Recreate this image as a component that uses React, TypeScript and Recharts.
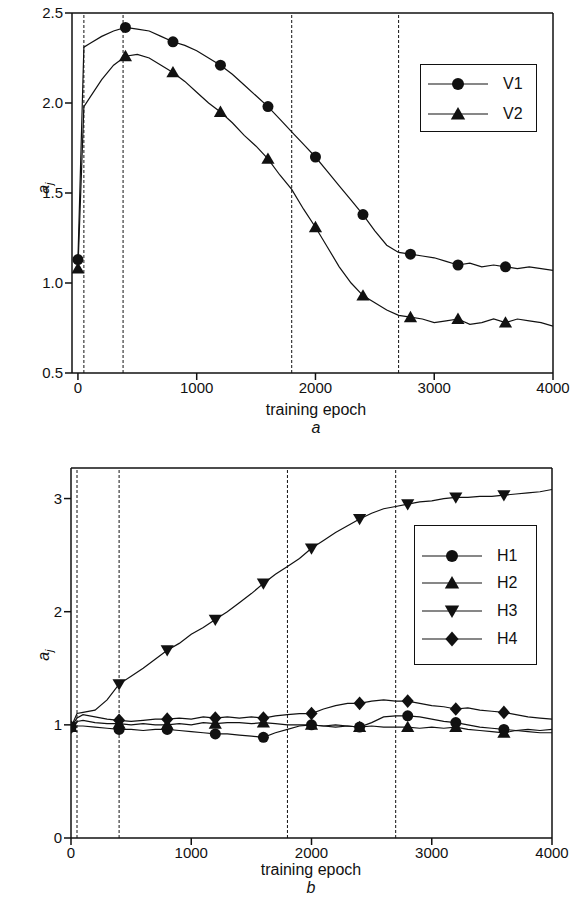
import React from 'react';
import { LineChart, Line, XAxis, YAxis, ReferenceLine } from 'recharts';

// ---------- data ----------
const epochs = [0, 50, 100, 200, 300, 400, 500, 600, 700, 800, 900, 1000, 1100, 1200, 1300, 1400, 1500, 1600, 1700, 1800, 1900, 2000, 2100, 2200, 2300, 2400, 2500, 2600, 2700, 2800, 2900, 3000, 3100, 3200, 3300, 3400, 3500, 3600, 3700, 3800, 3900, 4000];

const v1 = [1.13, 2.31, 2.33, 2.37, 2.40, 2.42, 2.41, 2.40, 2.37, 2.34, 2.32, 2.29, 2.25, 2.21, 2.16, 2.10, 2.04, 1.98, 1.91, 1.84, 1.77, 1.70, 1.62, 1.54, 1.46, 1.38, 1.29, 1.21, 1.17, 1.16, 1.15, 1.14, 1.12, 1.10, 1.11, 1.09, 1.10, 1.09, 1.08, 1.09, 1.08, 1.07];
const v2 = [1.08, 1.98, 2.03, 2.13, 2.21, 2.26, 2.27, 2.25, 2.21, 2.17, 2.12, 2.06, 2.00, 1.95, 1.89, 1.82, 1.76, 1.69, 1.60, 1.52, 1.41, 1.31, 1.20, 1.09, 1.00, 0.93, 0.89, 0.85, 0.82, 0.81, 0.80, 0.78, 0.79, 0.80, 0.77, 0.78, 0.80, 0.78, 0.80, 0.79, 0.78, 0.76];

const h1 = [0.98, 0.99, 0.99, 0.98, 0.97, 0.96, 0.96, 0.95, 0.96, 0.96, 0.95, 0.94, 0.93, 0.92, 0.92, 0.91, 0.90, 0.89, 0.93, 0.96, 0.99, 1.00, 0.99, 0.98, 0.99, 0.98, 1.02, 1.07, 1.08, 1.08, 1.07, 1.05, 1.03, 1.02, 1.00, 0.98, 0.97, 0.96, 0.95, 0.96, 0.95, 0.96];
const h2 = [0.98, 1.03, 1.04, 1.02, 1.01, 1.01, 1.00, 1.01, 1.00, 1.00, 1.01, 1.00, 1.02, 1.01, 1.02, 1.02, 1.01, 1.02, 1.01, 1.00, 1.00, 1.00, 0.99, 1.00, 0.99, 0.98, 0.99, 0.98, 0.98, 0.98, 0.97, 0.98, 0.97, 0.98, 0.96, 0.95, 0.94, 0.93, 0.95, 0.94, 0.93, 0.93];
const h3 = [0.98, 1.10, 1.11, 1.13, 1.22, 1.36, 1.43, 1.50, 1.58, 1.66, 1.72, 1.80, 1.86, 1.93, 2.00, 2.08, 2.16, 2.25, 2.33, 2.40, 2.47, 2.56, 2.63, 2.70, 2.76, 2.82, 2.87, 2.91, 2.93, 2.95, 2.97, 2.98, 3.00, 3.01, 3.01, 3.02, 3.02, 3.03, 3.04, 3.05, 3.06, 3.08];
const h4 = [0.98, 1.06, 1.09, 1.07, 1.05, 1.04, 1.03, 1.04, 1.05, 1.05, 1.06, 1.05, 1.07, 1.06, 1.07, 1.06, 1.07, 1.06, 1.08, 1.09, 1.10, 1.10, 1.14, 1.17, 1.19, 1.19, 1.21, 1.22, 1.21, 1.21, 1.19, 1.17, 1.16, 1.14, 1.15, 1.13, 1.12, 1.11, 1.09, 1.07, 1.06, 1.05];

const markerEpochs = [0, 400, 800, 1200, 1600, 2000, 2400, 2800, 3200, 3600];

const xTicks = [0, 1000, 2000, 3000, 4000];
const topYTicks = [0.5, 1.0, 1.5, 2.0, 2.5];
const bottomYTicks = [0, 1, 2, 3];
const topPhaseLines = [50, 380, 1800, 2700];
const bottomPhaseLines = [50, 400, 1800, 2700];

const topSeries = [
  { key: 'V1', values: v1, shape: 'circle' },
  { key: 'V2', values: v2, shape: 'triangle' },
];
const bottomSeries = [
  { key: 'H1', values: h1, shape: 'circle' },
  { key: 'H2', values: h2, shape: 'triangle' },
  { key: 'H3', values: h3, shape: 'down' },
  { key: 'H4', values: h4, shape: 'diamond' },
];

const buildRows = (series: { key: string; values: number[] }[]) =>
  epochs.map((e, i) => {
    const row: Record<string, number> = { epoch: e };
    series.forEach((s) => (row[s.key] = s.values[i]));
    return row;
  });

const topData = buildRows(topSeries);
const bottomData = buildRows(bottomSeries);

// ---------- drawing helpers ----------
const FONT = '"Liberation Sans", Arial, Helvetica, sans-serif';
const INK = '#111';

function Marker({ shape, cx, cy, size }: { shape: string; cx: number; cy: number; size: number }) {
  const s = size;
  if (shape === 'circle') return <circle cx={cx} cy={cy} r={s / 2} fill={INK} />;
  if (shape === 'triangle')
    return <polygon points={`${cx},${cy - s * 0.58} ${cx + s * 0.6},${cy + s * 0.45} ${cx - s * 0.6},${cy + s * 0.45}`} fill={INK} />;
  if (shape === 'down')
    return <polygon points={`${cx},${cy + s * 0.58} ${cx + s * 0.6},${cy - s * 0.45} ${cx - s * 0.6},${cy - s * 0.45}`} fill={INK} />;
  return <polygon points={`${cx},${cy - s * 0.62} ${cx + s * 0.55},${cy} ${cx},${cy + s * 0.62} ${cx - s * 0.55},${cy}`} fill={INK} />;
}

const makeDot = (shape: string, size: number) => (p: any) => {
  const k = `dot-${shape}-${p.index}`;
  if (!p.payload || !markerEpochs.includes(p.payload.epoch) || p.cx == null || p.cy == null) return <g key={k} />;
  return (
    <g key={k}>
      <Marker shape={shape} cx={p.cx} cy={p.cy} size={size} />
    </g>
  );
};

const tickStyle = { fill: INK, fontSize: 15, fontFamily: FONT };
const axisLineStyle = { stroke: INK, strokeWidth: 1.5 };

function LegendBox({ items, left, top, width, height, rowTops, size }: any) {
  return (
    <div
      style={{
        position: 'absolute',
        left,
        top,
        width,
        height,
        border: `1.5px solid ${INK}`,
        boxSizing: 'border-box',
        background: '#fff',
      }}
    >
      {items.map((it: any, i: number) => (
        <div key={it.key} style={{ position: 'absolute', left: 0, top: rowTops[i] - 10, height: 20, width: width - 4 }}>
          <svg width={80} height={20} style={{ position: 'absolute', left: 0, top: 0 }}>
            <line x1={7} x2={67} y1={10} y2={10} stroke={INK} strokeWidth={1.2} />
            <Marker shape={it.shape} cx={37} cy={10} size={size} />
          </svg>
          <span
            style={{
              position: 'absolute',
              left: 82,
              top: 0,
              lineHeight: '20px',
              fontSize: 16,
              fontFamily: FONT,
              color: INK,
            }}
          >
            {it.key}
          </span>
        </div>
      ))}
    </div>
  );
}

function YLabel({ left, top }: { left: number; top: number }) {
  return (
    <div
      style={{
        position: 'absolute',
        left,
        top,
        transform: 'rotate(-90deg)',
        transformOrigin: 'center',
        fontFamily: FONT,
        fontStyle: 'italic',
        fontSize: 16,
        color: INK,
        width: 24,
        textAlign: 'center',
      }}
    >
      a<sub style={{ fontSize: 11 }}>j</sub>
    </div>
  );
}

function Caption({ text, top, italic, left }: { text: string; top: number; italic?: boolean; left: number }) {
  return (
    <div
      style={{
        position: 'absolute',
        left: left - 100,
        width: 200,
        top,
        textAlign: 'center',
        fontFamily: FONT,
        fontStyle: italic ? 'italic' : 'normal',
        fontSize: 16,
        lineHeight: '18px',
        color: INK,
      }}
    >
      {text}
    </div>
  );
}

export default function App() {
  return (
    <div style={{ position: 'absolute', left: 0, top: 0, width: 572, height: 903, background: '#fff', overflow: 'hidden' }}>
      {/* ---------- panel a ---------- */}
      <div style={{ position: 'absolute', left: 0, top: 0 }}>
        <LineChart width={572} height={440} data={topData} margin={{ top: 13, right: 19, left: 0, bottom: 0 }}>
          <XAxis
            dataKey="epoch"
            type="number"
            domain={[-50, 4000]}
            ticks={xTicks}
            interval={0}
            allowDataOverflow
            height={67}
            tickSize={7}
            tick={tickStyle}
            axisLine={axisLineStyle}
            tickLine={axisLineStyle}
          />
          <YAxis
            type="number"
            domain={[0.5, 2.5]}
            ticks={topYTicks}
            interval={0}
            allowDataOverflow
            width={72}
            tickSize={7}
            tick={tickStyle}
            tickFormatter={(v: number) => v.toFixed(1)}
            axisLine={axisLineStyle}
            tickLine={axisLineStyle}
          />
          {topPhaseLines.map((x) => (
            <ReferenceLine key={`pa-${x}`} x={x} stroke={INK} strokeWidth={1} strokeDasharray="3 2" />
          ))}
          <ReferenceLine y={2.5} stroke={INK} strokeWidth={1.5} />
          <ReferenceLine x={4000} stroke={INK} strokeWidth={1.5} />
          {topSeries.map((s) => (
            <Line
              key={s.key}
              dataKey={s.key}
              type="linear"
              stroke={INK}
              strokeWidth={1.2}
              dot={makeDot(s.shape, 11)}
              activeDot={false}
              isAnimationActive={false}
            />
          ))}
        </LineChart>
      </div>
      <YLabel left={33} top={178} />
      <Caption text="training epoch" top={401} left={316} />
      <Caption text="a" top={419} italic left={316} />
      <LegendBox items={topSeries} left={420} top={64} width={117} height={68} rowTops={[19, 49]} size={12} />

      {/* ---------- panel b ---------- */}
      <div style={{ position: 'absolute', left: 0, top: 440 }}>
        <LineChart width={572} height={463} data={bottomData} margin={{ top: 28, right: 20, left: 0, bottom: 0 }}>
          <XAxis
            dataKey="epoch"
            type="number"
            domain={[0, 4000]}
            ticks={xTicks}
            interval={0}
            allowDataOverflow
            height={65}
            tickSize={7}
            tick={tickStyle}
            axisLine={axisLineStyle}
            tickLine={axisLineStyle}
          />
          <YAxis
            type="number"
            domain={[0, 3.27]}
            ticks={bottomYTicks}
            interval={0}
            allowDataOverflow
            width={71}
            tickSize={7}
            tick={tickStyle}
            axisLine={axisLineStyle}
            tickLine={axisLineStyle}
          />
          {bottomPhaseLines.map((x) => (
            <ReferenceLine key={`pb-${x}`} x={x} stroke={INK} strokeWidth={1} strokeDasharray="3 2" />
          ))}
          <ReferenceLine y={3.27} stroke={INK} strokeWidth={1.5} />
          <ReferenceLine x={4000} stroke={INK} strokeWidth={1.5} />
          {bottomSeries.map((s) => (
            <Line
              key={s.key}
              dataKey={s.key}
              type="linear"
              stroke={INK}
              strokeWidth={1.2}
              dot={makeDot(s.shape, 11)}
              activeDot={false}
              isAnimationActive={false}
            />
          ))}
        </LineChart>
      </div>
      <YLabel left={33} top={645} />
      <Caption text="training epoch" top={861} left={311} />
      <Caption text="b" top={879} italic left={311} />
      <LegendBox items={bottomSeries} left={414} top={525} width={123} height={140} rowTops={[30, 57, 85, 113]} size={12} />
    </div>
  );
}
